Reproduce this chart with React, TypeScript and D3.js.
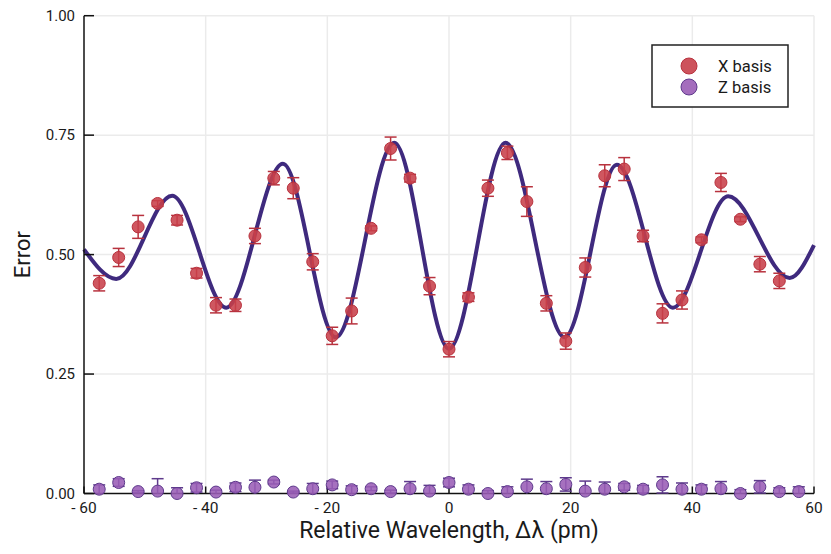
import React, { useEffect, useRef } from 'react';
import * as d3 from 'd3';

// wavelength offsets (pm) of the measured points
const wavelengths = [
  -57.5, -54.3, -51.1, -47.9, -44.7, -41.5, -38.3, -35.1, -31.9, -28.8, -25.6, -22.4,
  -19.2, -16.0, -12.8, -9.6, -6.4, -3.2, 0, 3.2, 6.4, 9.6, 12.8, 16.0, 19.2, 22.4,
  25.6, 28.8, 31.9, 35.1, 38.3, 41.5, 44.7, 47.9, 51.1, 54.3, 57.5,
];

const xBasis = [
  0.44, 0.494, 0.558, 0.607, 0.572, 0.461, 0.394, 0.394, 0.539, 0.66, 0.639, 0.485,
  0.33, 0.382, 0.555, 0.722, 0.66, 0.434, 0.302, 0.411, 0.639, 0.713, 0.611, 0.398,
  0.319, 0.473, 0.665, 0.679, 0.539, 0.377, 0.405, 0.531, 0.651, 0.574, 0.48, 0.445,
];
const xBasisErr = [
  0.016, 0.019, 0.024, 0.006, 0.01, 0.01, 0.016, 0.013, 0.016, 0.014, 0.022, 0.017,
  0.018, 0.027, 0.005, 0.024, 0.008, 0.018, 0.016, 0.009, 0.017, 0.014, 0.031, 0.016,
  0.017, 0.02, 0.023, 0.024, 0.012, 0.02, 0.019, 0.006, 0.019, 0.005, 0.016, 0.016,
];

const zBasis = [
  0.009, 0.023, 0.004, 0.005, 0.0, 0.012, 0.003, 0.013, 0.013, 0.024, 0.003, 0.01,
  0.018, 0.008, 0.01, 0.004, 0.01, 0.005, 0.023, 0.009, 0.0, 0.004, 0.014, 0.01,
  0.019, 0.005, 0.009, 0.014, 0.009, 0.018, 0.009, 0.009, 0.01, 0.0, 0.014, 0.004, 0.004,
];
const zBasisErr = [
  0.009, 0.008, 0.002, 0.026, 0.012, 0.009, 0.004, 0.009, 0.015, 0.004, 0.002, 0.011,
  0.008, 0.008, 0.004, 0.003, 0.015, 0.012, 0.009, 0.009, 0.006, 0.01, 0.016, 0.015,
  0.014, 0.021, 0.015, 0.007, 0.008, 0.017, 0.013, 0.009, 0.015, 0.008, 0.013, 0.008, 0.01,
];

const fitX = [-60, -54.7, -45.5, -36.6, -27.3, -18.6, -9.0, 0, 9.3, 19.0, 27.6, 36.8, 45.9, 56, 60];
const fitY = [0.511, 0.449, 0.623, 0.389, 0.69, 0.327, 0.734, 0.303, 0.734, 0.327, 0.688, 0.389, 0.622, 0.451, 0.52];

const xTicks = [-60, -40, -20, 0, 20, 40, 60];
const yTicks = [0, 0.25, 0.5, 0.75, 1.0];

const W = 831;
const H = 554;
const RED = '#c8404a';
const RED_DARK = '#b8323e';
const PURPLE = '#9a5db6';
const PURPLE_DARK = '#5e3a8c';
const LINE = '#3f2a7e';
const FONT = 'Roboto, "Noto Sans", sans-serif';

const App: React.FC = () => {
  const ref = useRef<SVGSVGElement>(null);

  useEffect(() => {
    if (!ref.current) return;
    const svg = d3.select(ref.current);
    svg.selectAll('*').remove();

    const x = d3.scaleLinear().domain([-60, 60]).range([84, 814]);
    const y = d3.scaleLinear().domain([0, 1]).range([493.5, 15.7]);
    const [x0, x1] = x.range();
    const [y0, y1] = y.range();

    // grid
    const grid = svg.append('g').attr('stroke', '#ebebeb').attr('stroke-width', 1.5);
    xTicks.slice(1).forEach(t =>
      grid.append('line').attr('x1', x(t)).attr('x2', x(t)).attr('y1', y0).attr('y2', y1),
    );
    yTicks.slice(1).forEach(t =>
      grid.append('line').attr('x1', x0).attr('x2', x1).attr('y1', y(t)).attr('y2', y(t)),
    );

    // fit
    const fit = fitX.map((v, i) => [v, fitY[i]] as [number, number]);
    svg
      .append('path')
      .datum(fit)
      .attr('fill', 'none')
      .attr('stroke', LINE)
      .attr('stroke-width', 4)
      .attr(
        'd',
        d3
          .line<[number, number]>()
          .x(d => x(d[0]))
          .y(d => y(d[1]))
          .curve(d3.curveMonotoneX),
      );

    const drawSeries = (vals: number[], errs: number[], fill: string, stroke: string) => {
      const g = svg.append('g');
      vals.forEach((v, i) => {
        const cx = x(wavelengths[i]);
        const lo = y(Math.max(0, v - errs[i]));
        const hi = y(v + errs[i]);
        const bars = g.append('g').attr('stroke', stroke).attr('stroke-width', 1.5);
        bars.append('line').attr('x1', cx).attr('x2', cx).attr('y1', lo).attr('y2', hi);
        bars.append('line').attr('x1', cx - 6).attr('x2', cx + 6).attr('y1', hi).attr('y2', hi);
        if (v - errs[i] > 0)
          bars.append('line').attr('x1', cx - 6).attr('x2', cx + 6).attr('y1', lo).attr('y2', lo);
        g.append('circle')
          .attr('cx', cx)
          .attr('cy', y(v))
          .attr('r', 6)
          .attr('fill', fill)
          .attr('fill-opacity', 0.88)
          .attr('stroke', stroke)
          .attr('stroke-width', 1);
      });
    };

    drawSeries(xBasis, xBasisErr, RED, RED_DARK);

    // axes
    const axes = svg.append('g').attr('stroke', '#111').attr('stroke-width', 1.5);
    axes.append('line').attr('x1', x0).attr('x2', x0).attr('y1', y0).attr('y2', y1);
    axes.append('line').attr('x1', x0).attr('x2', x1).attr('y1', y0).attr('y2', y0);
    yTicks.forEach(t =>
      axes.append('line').attr('x1', x0).attr('x2', x0 + 10).attr('y1', y(t)).attr('y2', y(t)),
    );
    xTicks.forEach(t =>
      axes.append('line').attr('x1', x(t)).attr('x2', x(t)).attr('y1', y0).attr('y2', y0 - 7),
    );

    drawSeries(zBasis, zBasisErr, PURPLE, PURPLE_DARK);

    const labels = svg.append('g').style('font-family', FONT).attr('fill', '#1a1a1a');
    yTicks.forEach(t =>
      labels
        .append('text')
        .attr('x', x0 - 9)
        .attr('y', y(t))
        .attr('dy', '0.35em')
        .attr('text-anchor', 'end')
        .style('font-size', '15px')
        .text(t.toFixed(2)),
    );
    xTicks.forEach(t =>
      labels
        .append('text')
        .attr('x', x(t))
        .attr('y', y0 + 14)
        .attr('dy', '0.35em')
        .attr('text-anchor', 'middle')
        .style('font-size', '15.5px')
        .text(t < 0 ? `- ${Math.abs(t)}` : `${t}`),
    );
    labels
      .append('text')
      .attr('x', (x0 + x1) / 2)
      .attr('y', 530)
      .attr('dy', '0.35em')
      .attr('text-anchor', 'middle')
      .style('font-size', '23px')
      .text('Relative Wavelength, Δλ (pm)');
    labels
      .append('text')
      .attr('transform', `translate(22,${(y0 + y1) / 2}) rotate(-90)`)
      .attr('dy', '0.35em')
      .attr('text-anchor', 'middle')
      .style('font-size', '22px')
      .text('Error');

    // legend
    const legend = svg.append('g').style('font-family', FONT);
    legend
      .append('rect')
      .attr('x', 652)
      .attr('y', 45)
      .attr('width', 136)
      .attr('height', 62)
      .attr('fill', 'white')
      .attr('stroke', '#222')
      .attr('stroke-width', 1.5);
    [
      { label: 'X basis', fill: RED, stroke: RED_DARK, cy: 66 },
      { label: 'Z basis', fill: PURPLE, stroke: PURPLE_DARK, cy: 87 },
    ].forEach(item => {
      legend
        .append('circle')
        .attr('cx', 689)
        .attr('cy', item.cy)
        .attr('r', 8)
        .attr('fill', item.fill)
        .attr('fill-opacity', 0.9)
        .attr('stroke', item.stroke);
      legend
        .append('text')
        .attr('x', 718)
        .attr('y', item.cy)
        .attr('dy', '0.35em')
        .style('font-size', '16.5px')
        .attr('fill', '#1a1a1a')
        .text(item.label);
    });
  }, []);

  return (
    <svg
      ref={ref}
      width={W}
      height={H}
      style={{ position: 'absolute', left: 0, top: 0, background: 'white' }}
    />
  );
};

export default App;
